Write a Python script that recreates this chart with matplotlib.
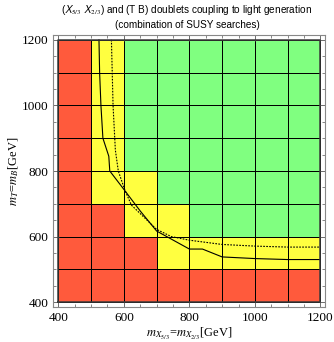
import numpy as np
import matplotlib
matplotlib.use('Agg')
from matplotlib import pyplot as plt
from matplotlib.colors import ListedColormap
from matplotlib.ticker import MultipleLocator

plt.rcParams['mathtext.fontset'] = 'stix'

# cell edges (GeV)
x_edges = [400, 500, 600, 700, 800, 900, 1000, 1100, 1200]
y_edges = [400, 500, 600, 700, 800, 900, 1000, 1100, 1200]

# exclusion status per cell, bottom row first: 0 excluded, 1 partly, 2 allowed
status_rows = [
    [0, 0, 0, 0, 0, 0, 0, 0],
    [0, 0, 0, 1, 1, 1, 1, 1],
    [0, 0, 1, 1, 2, 2, 2, 2],
    [0, 1, 1, 2, 2, 2, 2, 2],
    [0, 1, 2, 2, 2, 2, 2, 2],
    [0, 1, 2, 2, 2, 2, 2, 2],
    [0, 1, 2, 2, 2, 2, 2, 2],
    [0, 1, 2, 2, 2, 2, 2, 2],
]

# solid contour
solid_x = [524, 526, 530, 536, 554, 557, 600, 650, 700, 800, 840, 900, 1000, 1100, 1200]
solid_y = [1200, 1100, 1000, 900, 845, 800, 744, 678, 617, 562, 562, 538, 533, 530, 530]

# dotted contour
dot_x = [562, 567, 574, 583, 603, 623, 700, 745, 800, 900, 1000, 1100, 1200]
dot_y = [1200, 1000, 864, 800, 742, 696, 622, 600, 589, 576, 571, 568, 568]

cmap = ListedColormap(['#ff5a3c', '#ffff40', '#80ff80'])

fig = plt.figure(figsize=(3.34, 3.42), dpi=100)
ax = fig.add_axes([0.16, 0.103, 0.813, 0.794])

ax.pcolormesh(x_edges, y_edges, np.array(status_rows), cmap=cmap, vmin=0, vmax=2,
              edgecolors='black', linewidth=0.6)
ax.plot(solid_x, solid_y, color='black', lw=0.8)
ax.plot(dot_x, dot_y, color='black', lw=0.8, ls=(0, (1.5, 1.2)))
ax.plot([400, 1200, 1200, 400, 400], [400, 400, 1200, 1200, 400], color='#3a3a3a', lw=1.1)

ax.set_xlim(385, 1214)
ax.set_ylim(386, 1214)
ax.xaxis.set_major_locator(MultipleLocator(200))
ax.yaxis.set_major_locator(MultipleLocator(200))
ax.xaxis.set_minor_locator(MultipleLocator(50))
ax.yaxis.set_minor_locator(MultipleLocator(50))
ax.tick_params(which='both', direction='in', top=True, right=True, color='#555555')
ax.tick_params(which='major', length=4, width=0.6)
ax.tick_params(which='minor', length=2, width=0.5)
for lab in ax.get_xticklabels() + ax.get_yticklabels():
    lab.set_family('Liberation Serif')
    lab.set_fontsize(9.5)
for sp in ax.spines.values():
    sp.set_color('#888888')
    sp.set_linewidth(0.8)

ax.set_xlabel(r'$m_{X_{5/3}}$=$m_{X_{2/3}}$[GeV]', family='Liberation Serif', fontsize=9, labelpad=2)
ax.set_ylabel(r'$m_T$=$m_B$[GeV]', family='Liberation Serif', fontsize=9, labelpad=1)

fig.text(0.56, 0.971, r'($\mathsf{X}_{5/3}$ $\mathsf{X}_{2/3}$) and (T B) doublets coupling to light generation',
         ha='center', va='center', family='Liberation Sans', fontsize=7.2)
fig.text(0.56, 0.927, '(combination of SUSY searches)',
         ha='center', va='center', family='Liberation Sans', fontsize=7.2)

fig.savefig('out.png', dpi=100)
